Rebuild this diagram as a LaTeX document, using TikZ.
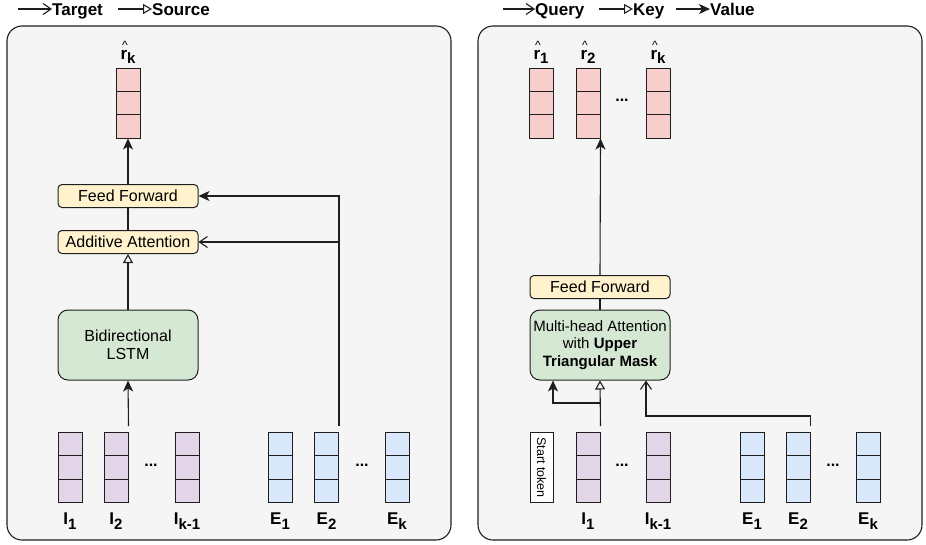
\documentclass[tikz,border=0pt]{standalone}
\usepackage{fontspec}
\setmainfont{Liberation Sans}
\usetikzlibrary{arrows.meta,positioning}
\definecolor{vecpink}{HTML}{F8CECC}
\definecolor{vecpurple}{HTML}{E1D5E7}
\definecolor{vecblue}{HTML}{DAE8FC}
\definecolor{boxyellow}{HTML}{FFF2CC}
\definecolor{boxgreen}{HTML}{D5E8D4}
\definecolor{panelgray}{HTML}{F5F5F5}
\definecolor{linegray}{HTML}{1E1E1E}

\newcommand{\sublbl}[2]{\textbf{#1}\raisebox{-5pt}{\fontsize{15}{15}\selectfont\textbf{#2}}}
\newcommand{\hatlbl}[1]{\textbf{r}\raisebox{-4pt}{\fontsize{15}{15}\selectfont\textbf{#1}}}

\begin{document}
\begin{tikzpicture}[
        x=1pt, y=-1pt,
        font=\fontsize{16}{18}\selectfont,
        panel/.style={draw=linegray, fill=panelgray, rounded corners=15pt, line width=1.1pt, minimum width=444pt, minimum height=514pt},
        vec/.style={draw=linegray, fill=#1, line width=1pt, minimum width=24pt, minimum height=70pt, inner sep=0pt,
            path picture={\draw[line width=1pt, linegray] ([yshift=11.67pt]path picture bounding box.west) -- ([yshift=11.67pt]path picture bounding box.east);
                          \draw[line width=1pt, linegray] ([yshift=-11.67pt]path picture bounding box.west) -- ([yshift=-11.67pt]path picture bounding box.east);}},
        block/.style={rectangle, rounded corners=4pt, draw=linegray, fill=#1, line width=1pt, inner sep=0pt, minimum width=140pt, minimum height=23pt, align=center},
        bigblock/.style={block=#1, rounded corners=10pt, minimum height=70pt},
        lbl/.style={font=\fontsize{17}{17}\selectfont\bfseries, inner sep=0pt, anchor=base},
        hatmark/.style={font=\fontsize{12}{12}\selectfont, inner sep=0pt, anchor=base},
        legend/.style={font=\fontsize{17}{17}\selectfont\bfseries, inner sep=0pt, anchor=base west},
        dots/.style={font=\fontsize{16}{16}\selectfont\bfseries, inner sep=0pt},
        tgt/.style={-{Straight Barb[length=8pt, width=11pt]}, line width=1.1pt, linegray},
        src/.style={-{Triangle[open, length=9pt, width=10pt]}, line width=1.1pt, linegray},
        val/.style={-{Stealth[length=11pt, width=10pt, inset=3pt]}, line width=1.1pt, linegray},
        link/.style={line width=1.1pt, linegray}
    ]
        \useasboundingbox (0,0) rectangle (926,544);

        % legends
        \coordinate (ltgt0) at (18,9);
        \node[legend] (ltgt) at (52,15) {Target};
        \draw[tgt] (ltgt0) -- (ltgt0 -| ltgt.west);
        \coordinate (lsrc0) at (118,9);
        \node[legend] (lsrc) at (152,15) {Source};
        \draw[src] (lsrc0) -- (lsrc0 -| lsrc.west);
        \coordinate (lqry0) at (503,9);
        \node[legend] (lqry) at (535,15) {Query};
        \draw[tgt] (lqry0) -- (lqry0 -| lqry.west);
        \coordinate (lkey0) at (599,9);
        \node[legend] (lkey) at (633,15) {Key};
        \draw[src] (lkey0) -- (lkey0 -| lkey.west);
        \coordinate (lval0) at (676,9);
        \node[legend] (lval) at (710,15) {Value};
        \draw[val] (lval0) -- (lval0 -| lval.west);

        % panels
        \node[panel] (lpanel) at (229,283) {};
        \node[panel] (rpanel) at (700,283) {};

        % left: additive attention decoder
        \node[vec=vecpink] (rk) at (128,103) {};
        \node[lbl] (rkl) at (128,59) {\hatlbl{k}};
        \node[hatmark] at (125,49.5) {\textasciicircum};
        \node[block=boxyellow] (ff1) at (128,196) {Feed Forward};
        \node[block=boxyellow] (att1) at (128,242) {Additive Attention};
        \node[bigblock=boxgreen] (lstm) at (128,345) {Bidirectional\\LSTM};

        \node[vec=vecpurple] (i1) at (70,467.5) {};
        \node[vec=vecpurple] (i2) at (116,467.5) {};
        \node[dots] at (151,465) {...};
        \node[vec=vecpurple] (ik1) at (187,467.5) {};
        \node[vec=vecblue] (e1) at (280,467.5) {};
        \node[vec=vecblue] (e2) at (326.5,467.5) {};
        \node[dots] at (362,465) {...};
        \node[vec=vecblue] (ek) at (397,467.5) {};
        \node[lbl] at (70,524) {\sublbl{I}{1}};
        \node[lbl] at (116,524) {\sublbl{I}{2}};
        \node[lbl] at (187,524) {\sublbl{I}{k-1}};
        \node[lbl] at (280,524) {\sublbl{E}{1}};
        \node[lbl] at (326.5,524) {\sublbl{E}{2}};
        \node[lbl] at (397,524) {\sublbl{E}{k}};

        \draw[val] (ff1.north) -- (rk.south);
        \draw[link] (att1.north) -- (ff1.south);
        \draw[src] (lstm.north) -- (att1.south);
        \draw[val] ([yshift=6pt]i2.north east) -- (lstm.south);
        \draw[val] ([yshift=6pt]e2.north east) |- (ff1.east);
        \draw[tgt] (e2.north east |- att1.east) -- (att1.east);

        % right: transformer decoder
        \node[vec=vecpink] (r1) at (541,103) {};
        \node[vec=vecpink] (r2) at (588,103) {};
        \node[dots] at (622,100) {...};
        \node[vec=vecpink] (rk2) at (658,103) {};
        \node[lbl] at (541,59) {\hatlbl{1}};
        \node[lbl] at (588,59) {\hatlbl{2}};
        \node[lbl] at (658,59) {\hatlbl{k}};
        \node[hatmark] at (538,49.5) {\textasciicircum};
        \node[hatmark] at (585,49.5) {\textasciicircum};
        \node[hatmark] at (655,49.5) {\textasciicircum};
        \node[block=boxyellow] (ff2) at (600,287) {Feed Forward};
        \node[bigblock=boxgreen, font=\fontsize{15}{17.5}\selectfont] (mha) at (600,345) {Multi-head Attention\\with \textbf{Upper}\\\textbf{Triangular Mask}};

        \node[draw=linegray, fill=white, line width=1pt, minimum width=70pt, minimum height=23pt, inner sep=0pt,
              rotate=-90, font=\fontsize{12.5}{13}\selectfont] (start) at (541.5,467.5) {Start token};
        \node[vec=vecpurple] (j1) at (588,467.5) {};
        \node[dots] at (622,465) {...};
        \node[vec=vecpurple] (jk1) at (658,467.5) {};
        \node[vec=vecblue] (f1) at (752,467.5) {};
        \node[vec=vecblue] (f2) at (798,467.5) {};
        \node[dots] at (833,465) {...};
        \node[vec=vecblue] (fk) at (868,467.5) {};
        \node[lbl] at (588,524) {\sublbl{I}{1}};
        \node[lbl] at (658,524) {\sublbl{I}{k-1}};
        \node[lbl] at (752,524) {\sublbl{E}{1}};
        \node[lbl] at (798,524) {\sublbl{E}{2}};
        \node[lbl] at (868,524) {\sublbl{E}{k}};

        \draw[val] (ff2.north) -- (r2.south east);
        \draw[link] (mha.north) -- (ff2.south);
        \draw[src] ([yshift=6pt]j1.north east) -- (mha.south);
        \draw[val] ([yshift=6pt]j1.north east) -- ++(0,-23) -| ([xshift=-47pt]mha.south);
        \draw[tgt] ([yshift=6pt]f2.north east) -- ++(0,-10) -| ([xshift=46pt]mha.south);
    \end{tikzpicture}
\end{document}
